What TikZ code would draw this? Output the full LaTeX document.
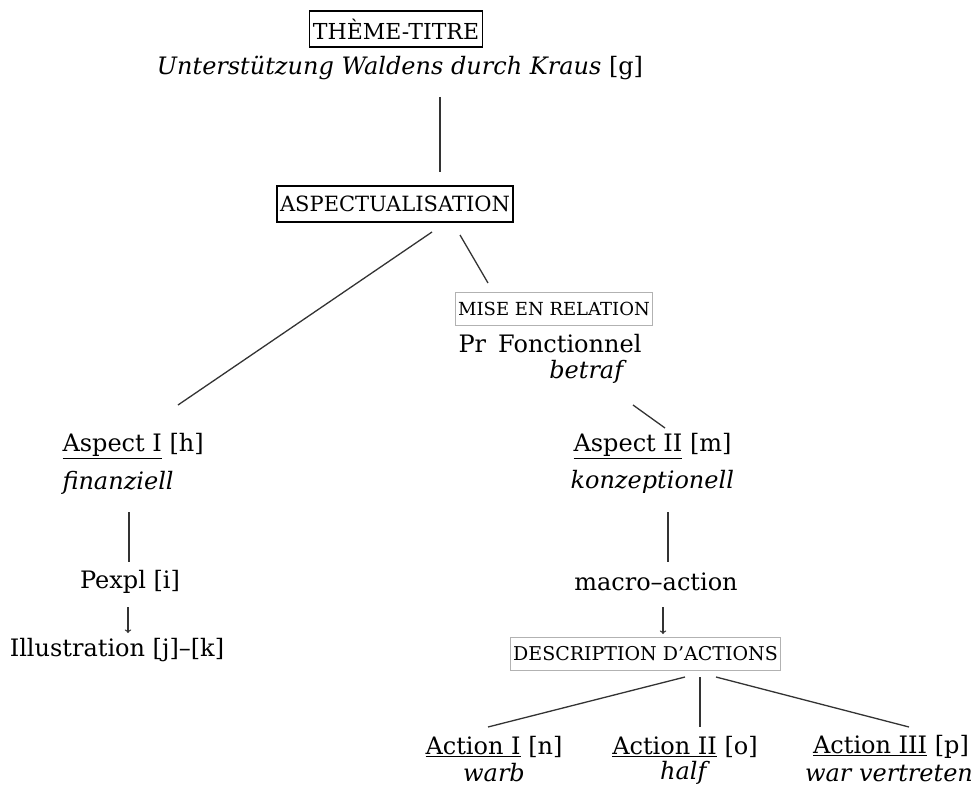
\documentclass[tikz,border=0pt]{standalone}
\usepackage{fontspec}
\setmainfont{DejaVu Serif}
\tikzset{
  blackbox/.style={draw, line width=1.2pt, inner xsep=3pt, minimum height=36pt},
  greybox/.style={draw=gray!60, line width=1.2pt, inner xsep=3pt, minimum height=33pt,
    font=\fontsize{18}{21}\selectfont},
  branch/.style={draw=black!80, line width=1.3pt},
}
\begin{document}
\begin{tikzpicture}[x=1pt, y=-1pt, font=\fontsize{24}{28}\selectfont]
\useasboundingbox (0,0) rectangle (976,789);
%Top of the tree: the theme and its aspectualisation,
% then the two aspects, each one with the nodes
% that hang below it.
\node[blackbox, font=\fontsize{22}{26}\selectfont] (titre) at (396,29) {THÈME-TITRE};
\node (theme) at (400,68) {\textit{Unterstützung Waldens durch Kraus} [g]};
\node[blackbox, font=\fontsize{21}{25}\selectfont] (asp) at (395,204) {ASPECTUALISATION};
\node[greybox] (mer) at (554,309) {MISE EN RELATION};
\node (prf) at (550,344) {Pr\enskip Fonctionnel};
\node (betraf) at (588,372) {\textit{betraf}};
% left branch
\node[anchor=west] (aspI) at (59,446) {\underline{Aspect I} [h]};
\node[anchor=west] (fin) at (59,483) {\textit{finanziell}};
\node (pexpl) at (130,582) {Pexpl [i]};
\node (illus) at (117,650) {Illustration [j]--[k]};
% right branch
\node[anchor=west] (aspII) at (570,446) {\underline{Aspect II} [m]};
\node[anchor=west] (konz) at (567,482) {\textit{konzeptionell}};
\node (macro) at (656,582) {macro--action};
\node[greybox, font=\fontsize{19}{22}\selectfont] (desc) at (645.5,654) {DESCRIPTION D'ACTIONS};
\node (actI) at (494,747) {\underline{Action I} [n]};
\node (warb) at (494,773) {\textit{warb}};
\node (actII) at (685,747) {\underline{Action II} [o]};
\node (half) at (685,773) {\textit{half}};
\node (actIII) at (891,747) {\underline{Action III} [p]};
\node (vertr) at (889,773) {\textit{war vertreten}};
% the edges
\draw[branch] ([shift={(40,29)}]theme.center) -- ([shift={(45,-32)}]asp.center);
\draw[branch] ([shift={(37,28)}]asp.center) -- ([shift={(119,-41)}]aspI.west);
\draw[branch] ([shift={(65,31)}]asp.center) -- ([shift={(-66,-26)}]mer.center);
\draw[branch] ([shift={(45,33)}]betraf.center) -- ([shift={(95,-18)}]aspII.west);
\draw[branch] ([shift={(70,29)}]fin.west) -- ([shift={(-1,-20)}]pexpl.center);
\draw[branch,->] ([shift={(-2,25)}]pexpl.center) -- ([shift={(11,-17)}]illus.center);
\draw[branch] ([shift={(101,30)}]konz.west) -- ([shift={(12,-20)}]macro.center);
\draw[branch,->] ([shift={(7,25)}]macro.center) -- ([shift={(17.5,-20)}]desc.center);
\draw[branch] ([shift={(39.5,23)}]desc.center) -- ([shift={(-6,-20)}]actI.center);
\draw[branch] ([shift={(54.5,23)}]desc.center) -- ([shift={(15,-20)}]actII.center);
\draw[branch] ([shift={(70.5,23)}]desc.center) -- ([shift={(18,-20)}]actIII.center);
\end{tikzpicture}
\end{document}
